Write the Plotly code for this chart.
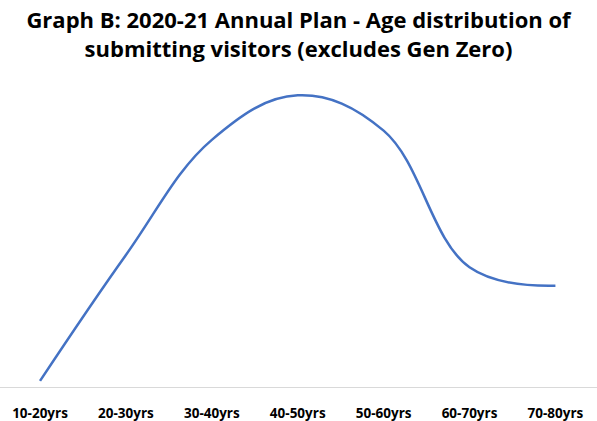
import plotly.graph_objects as go

# Age bands and relative share of submitting visitors
age_bands = ["10-20yrs", "20-30yrs", "30-40yrs", "40-50yrs", "50-60yrs", "60-70yrs", "70-80yrs"]
visitors = [2, 43, 80.5, 95, 83.5, 39, 33]

title_text = "Graph B: 2020-21 Annual Plan - Age distribution of<br>submitting visitors (excludes Gen Zero)"

fig = go.Figure(
    go.Scatter(
        x=age_bands,
        y=visitors,
        mode="lines",
        line=dict(color="#4472C4", width=2.5, shape="spline", smoothing=1.1),
        hoverinfo="x+y",
    )
)

fig.update_layout(
    width=597,
    height=421,
    margin=dict(l=0, r=0, t=80, b=34),
    paper_bgcolor="white",
    plot_bgcolor="white",
    showlegend=False,
    title=dict(
        text=title_text,
        x=0.5,
        xanchor="center",
        y=1 - 28 / 421,
        yref="container",
        yanchor="middle",
        font=dict(family="Open Sans", size=22, color="black", weight="bold"),
    ),
    xaxis=dict(
        type="category",
        range=[-0.466, 6.484],
        showgrid=False,
        zeroline=False,
        showline=True,
        linecolor="#d9d9d9",
        linewidth=1,
        ticks="",
        ticklabelstandoff=14,
        tickfont=dict(family="Open Sans", size=13.5, color="black", weight="bold"),
    ),
    yaxis=dict(
        range=[0, 100],
        visible=False,
        showgrid=False,
        zeroline=False,
    ),
)

fig.write_html("out.html")
